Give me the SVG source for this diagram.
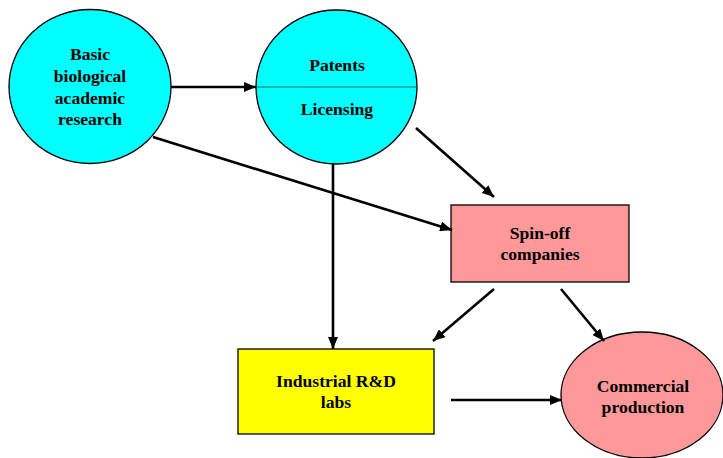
<svg xmlns="http://www.w3.org/2000/svg" width="723" height="458" viewBox="0 0 723 458">
<defs>
<marker id="ah" viewBox="0 0 12 10" refX="12" refY="5" markerWidth="12" markerHeight="10" markerUnits="userSpaceOnUse" orient="auto">
<path d="M0,0 L12,5 L0,10 Z" fill="#000"/>
</marker>
</defs>
<style>
.shape{stroke:#000;stroke-width:1.3}
.cyan{fill:#00FFFF}
.pink{fill:#FF9999}
.yellow{fill:#FFFF00}
.lbl{font-family:"Liberation Serif","Times New Roman",serif;font-weight:bold;font-size:17.6px;text-anchor:middle;fill:#000}
.conn line{stroke:#000;stroke-width:2.6;marker-end:url(#ah)}
</style>
<rect width="723" height="458" fill="#fff"/>
<g id="basic">
<ellipse class="shape cyan" cx="90" cy="86.5" rx="81" ry="77"/>
<text class="lbl" x="90" y="60">Basic</text>
<text class="lbl" x="90" y="82">biological</text>
<text class="lbl" x="90" y="103.5">academic</text>
<text class="lbl" x="90" y="125">research</text>
</g>
<g id="patents">
<ellipse class="shape cyan" cx="336.5" cy="87" rx="80.5" ry="77"/>
<line x1="256" y1="87" x2="417" y2="87" stroke="#006666" stroke-width="1"/>
<text class="lbl" x="337" y="71">Patents</text>
<text class="lbl" x="337" y="115">Licensing</text>
</g>
<g id="spinoff">
<rect class="shape pink" x="451" y="205" width="178" height="77"/>
<text class="lbl" x="540" y="239">Spin-off</text>
<text class="lbl" x="540" y="260">companies</text>
</g>
<g id="industrial">
<rect class="shape yellow" x="238" y="349" width="196" height="85"/>
<text class="lbl" x="336" y="387">Industrial R&amp;D</text>
<text class="lbl" x="336" y="408">labs</text>
</g>
<g id="commercial">
<ellipse class="shape pink" cx="642" cy="395" rx="81" ry="63"/>
<text class="lbl" x="643" y="392">Commercial</text>
<text class="lbl" x="643" y="413">production</text>
</g>
<g id="connectors" class="conn">
<line x1="171" y1="87" x2="256" y2="87"/>
<line x1="153" y1="137" x2="452" y2="230"/>
<line x1="416" y1="128" x2="494" y2="197"/>
<line x1="333" y1="163" x2="333" y2="349"/>
<line x1="494" y1="289" x2="433" y2="341"/>
<line x1="561" y1="289" x2="604" y2="341"/>
<line x1="451" y1="400" x2="562" y2="400"/>
</g>
</svg>
